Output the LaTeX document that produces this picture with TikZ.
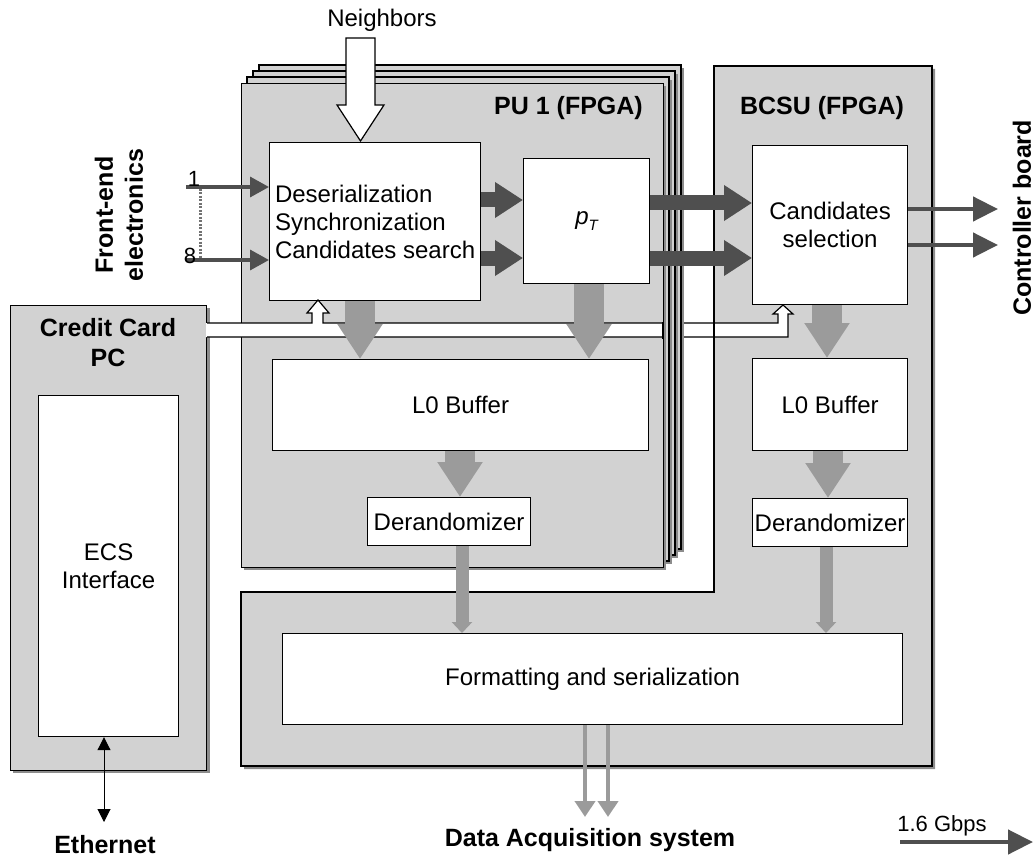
\documentclass[tikz,border=0pt]{standalone}
\usepackage{fontspec}
\setmainfont{Liberation Sans}
\usetikzlibrary{arrows.meta}
\definecolor{lightg}{HTML}{D2D2D2}
\definecolor{shadowg}{HTML}{8C8C8C}
\definecolor{darkarr}{HTML}{4F4F4F}
\definecolor{grayarr}{HTML}{9B9B9B}
\begin{document}
\begin{tikzpicture}[x=1pt,y=-1pt,
  box/.style={draw=black, fill=white, line width=1.2pt, inner sep=0pt, anchor=north west},
  region/.style={draw=black, fill=lightg, line width=1.2pt, inner sep=0pt, anchor=north west},
  txt/.style={font=\fontsize{24}{28}\selectfont, inner sep=0pt},
  btxt/.style={font=\fontsize{25}{30}\selectfont\bfseries, inner sep=0pt},
  bigg/.style={draw=grayarr, line width=30pt, -{Triangle[length=35pt,width=43pt]}},
  midg/.style={draw=grayarr, line width=13pt, -{Triangle[length=11pt,width=20pt]}},
  thing/.style={draw=grayarr, line width=4pt, -{Triangle[length=16pt,width=20pt]}},
  bigd/.style={draw=darkarr, line width=15pt, -{Triangle[length=28pt,width=34pt]}},
  thind/.style={draw=darkarr, line width=4.5pt, -{Triangle[length=25pt,width=24pt]}},
  hollow/.style={fill=white, draw=black, line width=1.2pt, line join=miter}
]
\useasboundingbox (0,0) rectangle (1036,861);

% ---------- PU stack ----------
\foreach \k in {3,2,1}{
  \fill[shadowg] (244+6*\k,86-6*\k) rectangle (666+6*\k,570-6*\k);
  \filldraw[fill=lightg, line width=1.2pt] (241+6*\k,83-6*\k) rectangle (663+6*\k,567-6*\k);
}
\fill[shadowg] (244,86) rectangle (666,570);
\node[region, minimum width=422pt, minimum height=484pt] (pu) at (241,83) {};

% ---------- BCSU / bottom L region ----------
\fill[shadowg] (717,69) -- (935,69) -- (935,769) -- (244,769) -- (244,595) -- (717,595) -- cycle;
\filldraw[fill=lightg, line width=1.2pt] (714,66) -- (932,66) -- (932,766) -- (241,766) -- (241,592) -- (714,592) -- cycle;

% ---------- Credit card PC ----------
\fill[shadowg] (13,308) rectangle (210,773);
\node[region, minimum width=196pt, minimum height=465pt] (pc) at (10,305) {};
\node[box, minimum width=140pt, minimum height=341pt, align=center, txt] (ecs) at (38,395) {ECS\\Interface};
\node[btxt, align=center] (pct) at (108,343) {Credit Card\\PC};

% ---------- titles ----------
\node[btxt, anchor=east] (put) at (643,108) {PU 1 (FPGA)};
\node[btxt] (bct) at (822,108) {BCSU (FPGA)};

% ---------- inner boxes ----------
\node[box, minimum width=211pt, minimum height=158pt, align=left, txt] (deser) at (269,142) {Deserialization\\Synchronization\\Candidates search};
\node[box, minimum width=126pt, minimum height=125pt, txt] (pt) at (523,158) {\itshape p\raisebox{-0.45ex}{\fontsize{15}{15}\selectfont T}};
\node[box, minimum width=155pt, minimum height=159pt, align=center, txt] (cand) at (752,145) {Candidates\\selection};
\node[box, minimum width=376pt, minimum height=91pt, txt] (l0a) at (272,359) {L0 Buffer};
\node[box, minimum width=155pt, minimum height=92pt, txt] (l0b) at (752,358) {L0 Buffer};
\node[box, minimum width=163pt, minimum height=48pt, txt] (dera) at (367,497) {Derandomizer};
\node[box, minimum width=155pt, minimum height=48pt, txt] (derb) at (752,498) {Derandomizer};
\node[box, minimum width=620pt, minimum height=91pt, txt] (fmt) at (282,633) {Formatting and serialization};

% ---------- ECS bus (hollow) ----------
\fill[white] (206,323) -- (312,323) -- (312,313) -- (307,313) -- (318,300) -- (329,313) -- (323,313) -- (323,323)
  -- (778,323) -- (778,314) -- (773,314) -- (783,305) -- (793,314) -- (788,314) -- (788,337) -- (206,337) -- cycle;
\draw[line width=1.2pt, line join=miter] (pc.east |- 0,323) -- (312,323) -- (312,313) -- (307,313) -- (318,300) -- (329,313) -- (323,313) -- (323,323)
  -- (778,323) -- (778,314) -- (773,314) -- (783,305) -- (793,314) -- (788,314) -- (788,337) -- (pc.east |- 0,337);
% stack edges and BCSU edge pass over the bus
\begin{scope}
  \clip (662,322) rectangle (686,338);
  \foreach \k in {3,2,1}{
    \fill[shadowg] (244+6*\k,86-6*\k) rectangle (666+6*\k,570-6*\k);
    \filldraw[fill=lightg, line width=1.2pt] (241+6*\k,83-6*\k) rectangle (663+6*\k,567-6*\k);
  }
  \fill[shadowg] (244,86) rectangle (666,570);
  \draw[line width=1.2pt] (663,83) -- (663,567);
\end{scope}
\draw[line width=1.2pt] (714,322) -- (714,338);

% ---------- Neighbors ----------
\node[txt] (nb) at (382,20) {Neighbors};
\draw[hollow] (346,38) -- (375,38) -- (375,105) -- (384,105) -- (360.5,141) -- (337,105) -- (346,105) -- cycle;

% ---------- gray flow arrows ----------
\draw[bigg] (deser.south -| 360,0) -- (l0a.north -| 360,0);
\draw[bigg] (pt.south -| 589,0) -- (l0a.north -| 589,0);
\draw[bigg] (cand.south -| 827,0) -- (l0b.north -| 827,0);
\draw[bigg] (l0a.south -| 460,0) -- (dera.north -| 460,0);
\draw[bigg] (l0b.south -| 828,0) -- (derb.north -| 828,0);
\draw[midg] (dera.south -| 462,0) -- (fmt.north -| 462,0);
\draw[midg] (derb.south -| 826,0) -- (fmt.north -| 826,0);
\coordinate (daq1) at (585,817);
\coordinate (daq2) at (608,817);
\draw[thing] (fmt.south -| daq1) -- (daq1);
\draw[thing] (fmt.south -| daq2) -- (daq2);
\node[btxt] (daq) at (590,840) {Data Acquisition system};

% ---------- dark data arrows ----------
\draw[bigd] (deser.east |- 0,200) -- (pt.west |- 0,200);
\draw[bigd] (deser.east |- 0,258) -- (pt.west |- 0,258);
\draw[bigd] (pt.east |- 0,203) -- (cand.west |- 0,203);
\draw[bigd] (pt.east |- 0,258) -- (cand.west |- 0,258);
\coordinate (cb1) at (998,209);
\coordinate (cb2) at (998,245);
\draw[thind] (cand.east |- cb1) -- (cb1);
\draw[thind] (cand.east |- cb2) -- (cb2);
\node[btxt, rotate=90] (cb) at (1022,218) {Controller board};

% ---------- front-end inputs ----------
\node[btxt, rotate=90, align=center] (fe) at (119,215) {Front-end\\electronics};
\coordinate (in1) at (186,187);
\coordinate (in8) at (186,260);
\draw[draw=darkarr, line width=3.5pt, -{Triangle[length=19pt,width=20pt]}] (in1) -- (deser.west |- in1);
\draw[draw=darkarr, line width=3.5pt, -{Triangle[length=19pt,width=20pt]}] (in8) -- (deser.west |- in8);
\draw[draw=darkarr!80, line width=3pt, dash pattern=on 2pt off 1.5pt] (200,189) -- (200,258);
\node[font=\fontsize{22}{22}\selectfont, inner sep=0pt] (l1) at (194,179) {1};
\node[font=\fontsize{22}{22}\selectfont, inner sep=0pt] (l8) at (190,256) {8};

% ---------- Ethernet ----------
\node[btxt] (eth) at (105,845) {Ethernet};
\coordinate (ethtop) at (104,822);
\draw[line width=1pt, {Triangle[length=13pt,width=13pt]}-{Triangle[length=13pt,width=13pt]}] (ecs.south -| ethtop) -- (ethtop);

% ---------- legend ----------
\node[font=\fontsize{22}{22}\selectfont, inner sep=0pt] (leg) at (942,826) {1.6 Gbps};
\coordinate (lg1) at (900,842);
\coordinate (lg2) at (1033,842);
\draw[thind] (lg1) -- (lg2);
\end{tikzpicture}
\end{document}
